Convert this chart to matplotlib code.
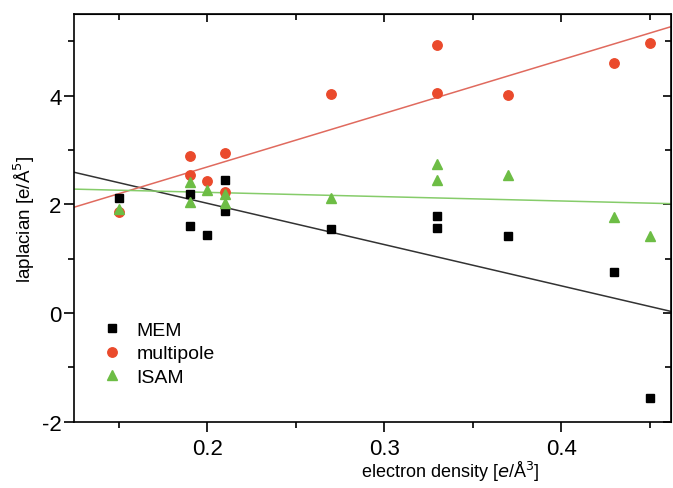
import numpy as np
import matplotlib.pyplot as plt

plt.rcParams['font.family'] = ['Liberation Sans', 'DejaVu Sans']
plt.rcParams['axes.unicode_minus'] = False

# electron density values
x_mem = [0.15, 0.19, 0.19, 0.20, 0.21, 0.21, 0.27, 0.33, 0.33, 0.37, 0.43, 0.45]
y_mem = [2.11, 2.19, 1.60, 1.43, 2.45, 1.88, 1.54, 1.78, 1.57, 1.41, 0.76, -1.57]

x_mp = [0.15, 0.19, 0.19, 0.20, 0.21, 0.21, 0.27, 0.33, 0.33, 0.37, 0.43, 0.45]
y_mp = [1.86, 2.88, 2.53, 2.42, 2.94, 2.22, 4.02, 4.93, 4.04, 4.01, 4.59, 4.96]

x_isam = [0.15, 0.19, 0.19, 0.20, 0.21, 0.21, 0.27, 0.33, 0.33, 0.37, 0.43, 0.45]
y_isam = [1.92, 2.41, 2.04, 2.27, 2.19, 2.03, 2.12, 2.74, 2.45, 2.54, 1.77, 1.41]

fig = plt.figure(figsize=(6.73, 4.89), dpi=100)
ax = fig.add_axes([0.110, 0.1356, 0.887, 0.8337])

xlim = (0.1247, 0.462)
xx = np.array(xlim)

# linear fits
for xs, ys, c in [(x_mem, y_mem, '#333333'), (x_mp, y_mp, '#e06a5e'), (x_isam, y_isam, '#86cc6a')]:
    k, b = np.polyfit(xs, ys, 1)
    ax.plot(xx, k * xx + b, color=c, lw=1.1, zorder=1)

ax.plot(x_mem, y_mem, 's', color='black', ms=6, label='MEM', zorder=3)
ax.plot(x_mp, y_mp, 'o', color='#ea4a2c', ms=6.8, label='multipole', zorder=3)
ax.plot(x_isam, y_isam, '^', color='#6dbd45', ms=7, label='ISAM', zorder=3)

ax.set_xlim(*xlim)
ax.set_ylim(-2, 5.5)
ax.set_xticks([0.2, 0.3, 0.4])
ax.set_xticklabels(['0.2', '0.3', '0.4'])
ax.set_xticks([0.15, 0.25, 0.35, 0.45], minor=True)
ax.set_yticks([-2, 0, 2, 4])
ax.set_yticks([-1, 1, 3, 5], minor=True)

ax.tick_params(which='major', direction='out', length=7, width=1.2, labelsize=16, pad=5)
ax.tick_params(axis='y', which='major', pad=2)
ax.tick_params(which='minor', direction='out', length=4, width=1.2)
# mirrored ticks on top and right
ax2 = ax.secondary_xaxis('top')
ax2.set_xticks([0.2, 0.3, 0.4])
ax2.set_xticks([0.15, 0.25, 0.35, 0.45], minor=True)
ax2.tick_params(which='major', direction='in', length=6, width=1.2, labeltop=False)
ax2.tick_params(which='minor', direction='in', length=4, width=1.2)
ax3 = ax.secondary_yaxis('right')
ax3.set_yticks([-2, 0, 2, 4])
ax3.set_yticks([-1, 1, 3, 5], minor=True)
ax3.tick_params(which='major', direction='in', length=6, width=1.2, labelright=False)
ax3.tick_params(which='minor', direction='in', length=4, width=1.2)

for s in ax.spines.values():
    s.set_linewidth(1.2)

ax.set_xlabel(r'electron density [$e$/Å$^3$]', fontsize=13)
ax.xaxis.set_label_coords(0.63, -0.092)
ax.set_ylabel(r'laplacian [e/Å$^5$]', fontsize=13.5)
ax.yaxis.set_label_coords(-0.062, 0.5)

ax.legend(loc='lower left', bbox_to_anchor=(0.01, 0.045), frameon=False, fontsize=14,
          handletextpad=0.5, labelspacing=0.3, handlelength=1.5)

fig.savefig('out.png', dpi=100)
